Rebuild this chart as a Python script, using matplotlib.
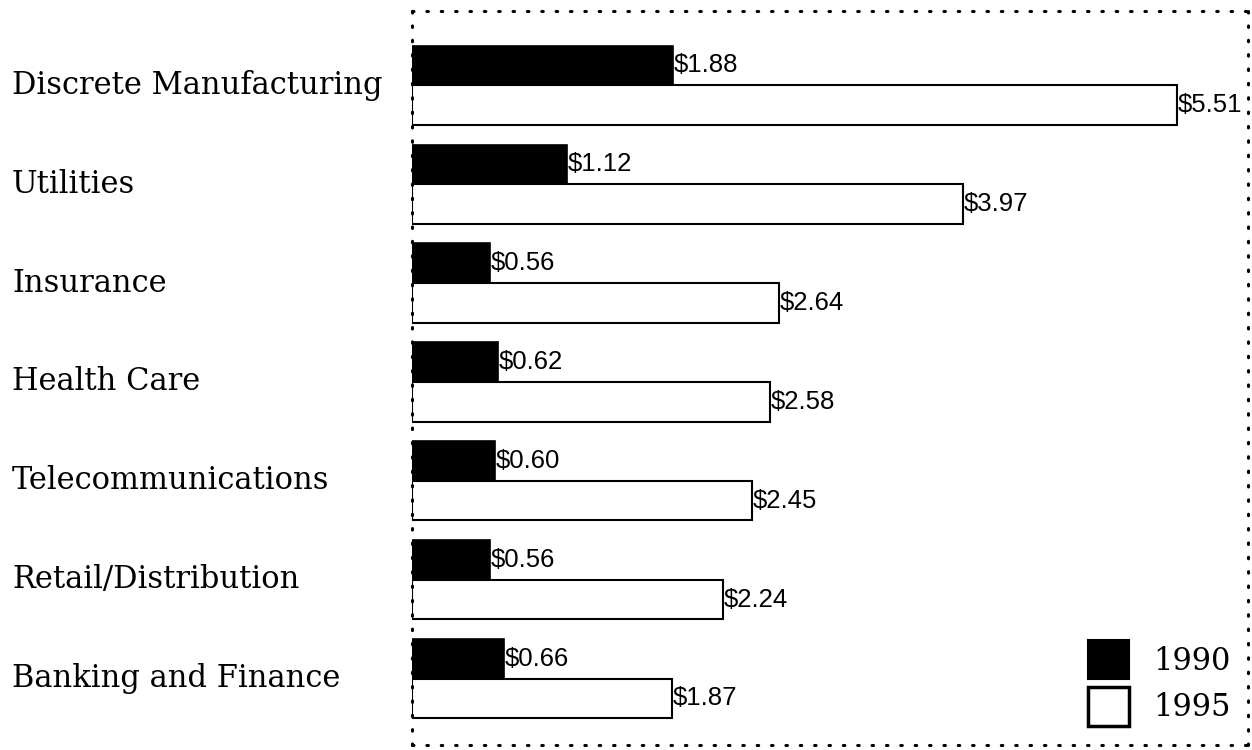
import numpy as np
import matplotlib.pyplot as plt
from matplotlib.patches import Patch
from matplotlib.transforms import blended_transform_factory

# data, top to bottom as in the chart
categories = ["Discrete Manufacturing", "Utilities", "Insurance", "Health Care",
              "Telecommunications", "Retail/Distribution", "Banking and Finance"]
v1990 = [1.88, 1.12, 0.56, 0.62, 0.60, 0.56, 0.66]
v1995 = [5.51, 3.97, 2.64, 2.58, 2.45, 2.24, 1.87]

fig = plt.figure(figsize=(12.52, 7.5), dpi=100)
ax = fig.add_axes([0.329, 0.0067, 0.6678, 0.9786])

n = len(categories)
y = np.arange(n)[::-1].astype(float)
h = 0.4

ax.barh(y + h / 2, v1990, height=h, color="black", edgecolor="black", linewidth=1.2)
ax.barh(y - h / 2, v1995, height=h, color="white", edgecolor="black", linewidth=1.5)

for yi, a, b in zip(y, v1990, v1995):
    ax.text(a + 0.005, yi + h / 2, f"${a:.2f}", va="center", ha="left",
            fontsize=18.5, family="Liberation Sans")
    ax.text(b + 0.005, yi - h / 2, f"${b:.2f}", va="center", ha="left",
            fontsize=18.5, family="Liberation Sans")

# category labels, left aligned in the figure margin
tr = blended_transform_factory(fig.transFigure, ax.transData)
for yi, c in zip(y, categories):
    ax.text(0.0096, yi, c, transform=tr, ha="left", va="center",
            fontsize=22, family="DejaVu Serif")

ax.set_xlim(0, 6.02)
ax.set_ylim(-0.67, 6.75)
ax.set_xticks([])
ax.set_yticks([])

for s in ax.spines.values():
    s.set_linestyle((0, (0.5, 4.2)))
    s.set_linewidth(2.2)
    s.set_capstyle("round")

handles = [Patch(facecolor="black", edgecolor="black", linewidth=1.5),
           Patch(facecolor="white", edgecolor="black", linewidth=2.5)]
leg = ax.legend(handles, ["1990", "1995"], loc="lower right",
                bbox_to_anchor=(1.005, -0.003), frameon=False,
                handlelength=1.33, handleheight=1.58, labelspacing=0.25,
                handletextpad=0.8, borderpad=0.2,
                prop={"family": "DejaVu Serif", "size": 22})

fig.savefig("out.png", dpi=100)
